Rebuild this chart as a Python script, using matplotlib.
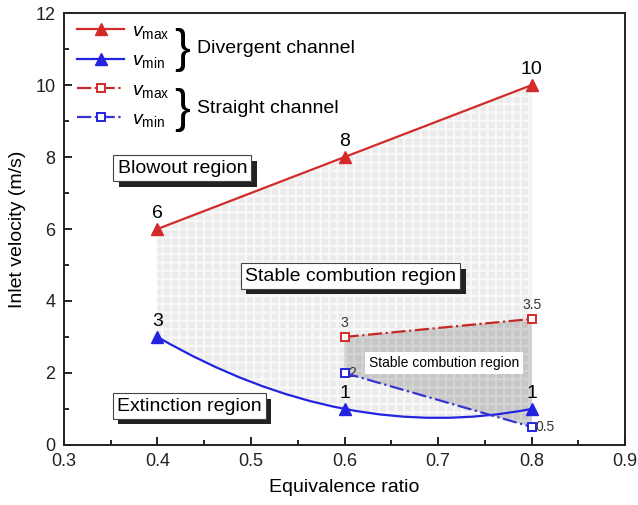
import numpy as np
import matplotlib
matplotlib.use("Agg")
import matplotlib.pyplot as plt
from matplotlib.path import Path
from matplotlib.patches import PathPatch
from matplotlib.lines import Line2D
import matplotlib.patheffects as pe

plt.rcParams['font.family'] = ['Liberation Sans', 'DejaVu Sans']
plt.rcParams['mathtext.fontset'] = 'custom'
plt.rcParams['mathtext.rm'] = 'Liberation Sans'
plt.rcParams['mathtext.it'] = 'Liberation Sans:italic'
plt.rcParams['hatch.linewidth'] = 1.6

# data
phi_div = [0.4, 0.6, 0.8]
vmax_div = [6, 8, 10]
vmin_div = [3, 1, 1]
phi_str = [0.6, 0.8]
vmax_str = [3, 3.5]
vmin_str = [2, 0.5]

red = '#d42a2a'
blue = '#2424e0'

fig = plt.figure(figsize=(6.38, 5.05), dpi=100)
ax = fig.add_axes([0.100, 0.119, 0.880, 0.855])

# smooth curve through the three vmin points (quadratic bezier through middle point)
p0 = np.array([phi_div[0], vmin_div[0]])
p1 = np.array([phi_div[1], vmin_div[1]])
p2 = np.array([phi_div[2], vmin_div[2]])
ctrl = 2 * p1 - (p0 + p2) / 2

# light shaded stable region (divergent channel)
verts = [tuple(p0), tuple(ctrl), tuple(p2)]
codes = [Path.MOVETO, Path.CURVE3, Path.CURVE3]
for x, y in zip(phi_div[::-1], vmax_div[::-1]):
    verts.append((x, y))
    codes.append(Path.LINETO)
verts.append(tuple(p0))
codes.append(Path.CLOSEPOLY)
ax.add_patch(PathPatch(Path(verts, codes), facecolor='#ebebeb', edgecolor='#f8f8f8',
                       lw=0, hatch='++', zorder=1))

# darker shaded stable region (straight channel)
ax.fill_between(phi_str, vmin_str, vmax_str, facecolor='#c6c6c6', edgecolor='#d4d4d4',
                lw=0, hatch='++', zorder=1.5)

# curves
ax.plot(phi_div, vmax_div, color=red, lw=1.6, marker='^', ms=8, zorder=4)
ax.plot(phi_div, vmin_div, ls='none', color=blue, marker='^', ms=8, zorder=4)
ax.add_patch(PathPatch(Path([tuple(p0), tuple(ctrl), tuple(p2)],
                            [Path.MOVETO, Path.CURVE3, Path.CURVE3]),
                       facecolor='none', edgecolor=blue, lw=1.6, zorder=4))
ax.plot(phi_str, vmax_str, color='#c42828', lw=1.6, ls='-.', marker='s', ms=6,
        mfc='white', mec=red, mew=1.4, zorder=4)
ax.plot(phi_str, vmin_str, color='#3535d0', lw=1.6, ls='-.', marker='s', ms=6,
        mfc='white', mec=blue, mew=1.4, zorder=4)

# value labels
for x, y in zip(phi_div, vmax_div):
    ax.annotate(str(y), (x, y), xytext=(0, 5), textcoords='offset points',
                ha='center', va='bottom', fontsize=14)
for x, y in zip(phi_div, vmin_div):
    ax.annotate(str(y), (x, y), xytext=(0, 5), textcoords='offset points',
                ha='center', va='bottom', fontsize=14)
ax.annotate('3', (phi_str[0], vmax_str[0]), xytext=(0, 5), textcoords='offset points',
            ha='center', va='bottom', fontsize=10, color='#333333')
ax.annotate('3.5', (phi_str[1], vmax_str[1]), xytext=(0, 5), textcoords='offset points',
            ha='center', va='bottom', fontsize=10, color='#333333')
ax.annotate('2', (phi_str[0], vmin_str[0]), xytext=(3, 0), textcoords='offset points',
            ha='left', va='center', fontsize=10, color='#333333')
ax.annotate('0.5', (phi_str[1], vmin_str[1]), xytext=(3, 0), textcoords='offset points',
            ha='left', va='center', fontsize=10, color='#333333')

# region labels with shadow boxes
shadow = [pe.withSimplePatchShadow(offset=(4, -4), shadow_rgbFace='#222222', alpha=1.0)]
for x, y, s in [(0.4266, 7.69, 'Blowout region'),
                (0.6064, 4.69, 'Stable combution region'),
                (0.434, 1.08, 'Extinction region')]:
    t = ax.text(x, y, s, ha='center', va='center', fontsize=14, zorder=6,
                bbox=dict(boxstyle='square,pad=0.22', facecolor='white',
                          edgecolor='#444444', lw=0.8))
    t.get_bbox_patch().set_path_effects(shadow)
ax.text(0.7064, 2.28, 'Stable combution region', ha='center', va='center', fontsize=10,
        zorder=6, bbox=dict(boxstyle='square,pad=0.3', facecolor='white', lw=0))

# legend
handles = [Line2D([], [], color=red, lw=1.6, marker='^', ms=8),
           Line2D([], [], color=blue, lw=1.6, marker='^', ms=8),
           Line2D([], [], color='#c42828', lw=1.6, ls='-.', marker='s', ms=6,
                  mfc='white', mec=red, mew=1.4),
           Line2D([], [], color='#3535d0', lw=1.6, ls='-.', marker='s', ms=6,
                  mfc='white', mec=blue, mew=1.4)]
labels = [r'$v_{\rm max}$', r'$v_{\rm min}$', r'$v_{\rm max}$', r'$v_{\rm min}$']
ax.legend(handles, labels, loc='upper left', frameon=False, fontsize=14,
          handlelength=2.4, handletextpad=0.4, labelspacing=0.55,
          bbox_to_anchor=(0.0, 1.01), borderaxespad=0.3)
ax.text(0.210, 0.914, '}', transform=ax.transAxes, fontsize=34, ha='center',
        va='center', fontweight='light')
ax.text(0.210, 0.776, '}', transform=ax.transAxes, fontsize=34, ha='center',
        va='center', fontweight='light')
ax.text(0.237, 0.917, 'Divergent channel', transform=ax.transAxes, fontsize=14,
        va='center')
ax.text(0.237, 0.779, 'Straight channel', transform=ax.transAxes, fontsize=14,
        va='center')

# axes
ax.set_xlim(0.3, 0.9)
ax.set_ylim(0, 12)
ax.set_xticks(np.arange(0.3, 0.91, 0.1))
ax.set_xticks(np.arange(0.35, 0.9, 0.1), minor=True)
ax.set_yticks(np.arange(0, 13, 2))
ax.set_yticks(np.arange(1, 12, 2), minor=True)
ax.xaxis.set_major_formatter(plt.FuncFormatter(lambda v, p: f'{v:.1f}'))
ax.tick_params(direction='in', which='major', length=6, width=1.2, labelsize=13, pad=6,
               labelcolor='#222222')
ax.tick_params(direction='in', which='minor', length=3.5, width=1.2)
for sp in ax.spines.values():
    sp.set_linewidth(1.4)
    sp.set_color('#222222')
ax.set_xlabel('Equivalence ratio', fontsize=14, labelpad=6)
ax.set_ylabel('Inlet velocity (m/s)', fontsize=14, labelpad=7)

fig.savefig('out.png', dpi=100)
